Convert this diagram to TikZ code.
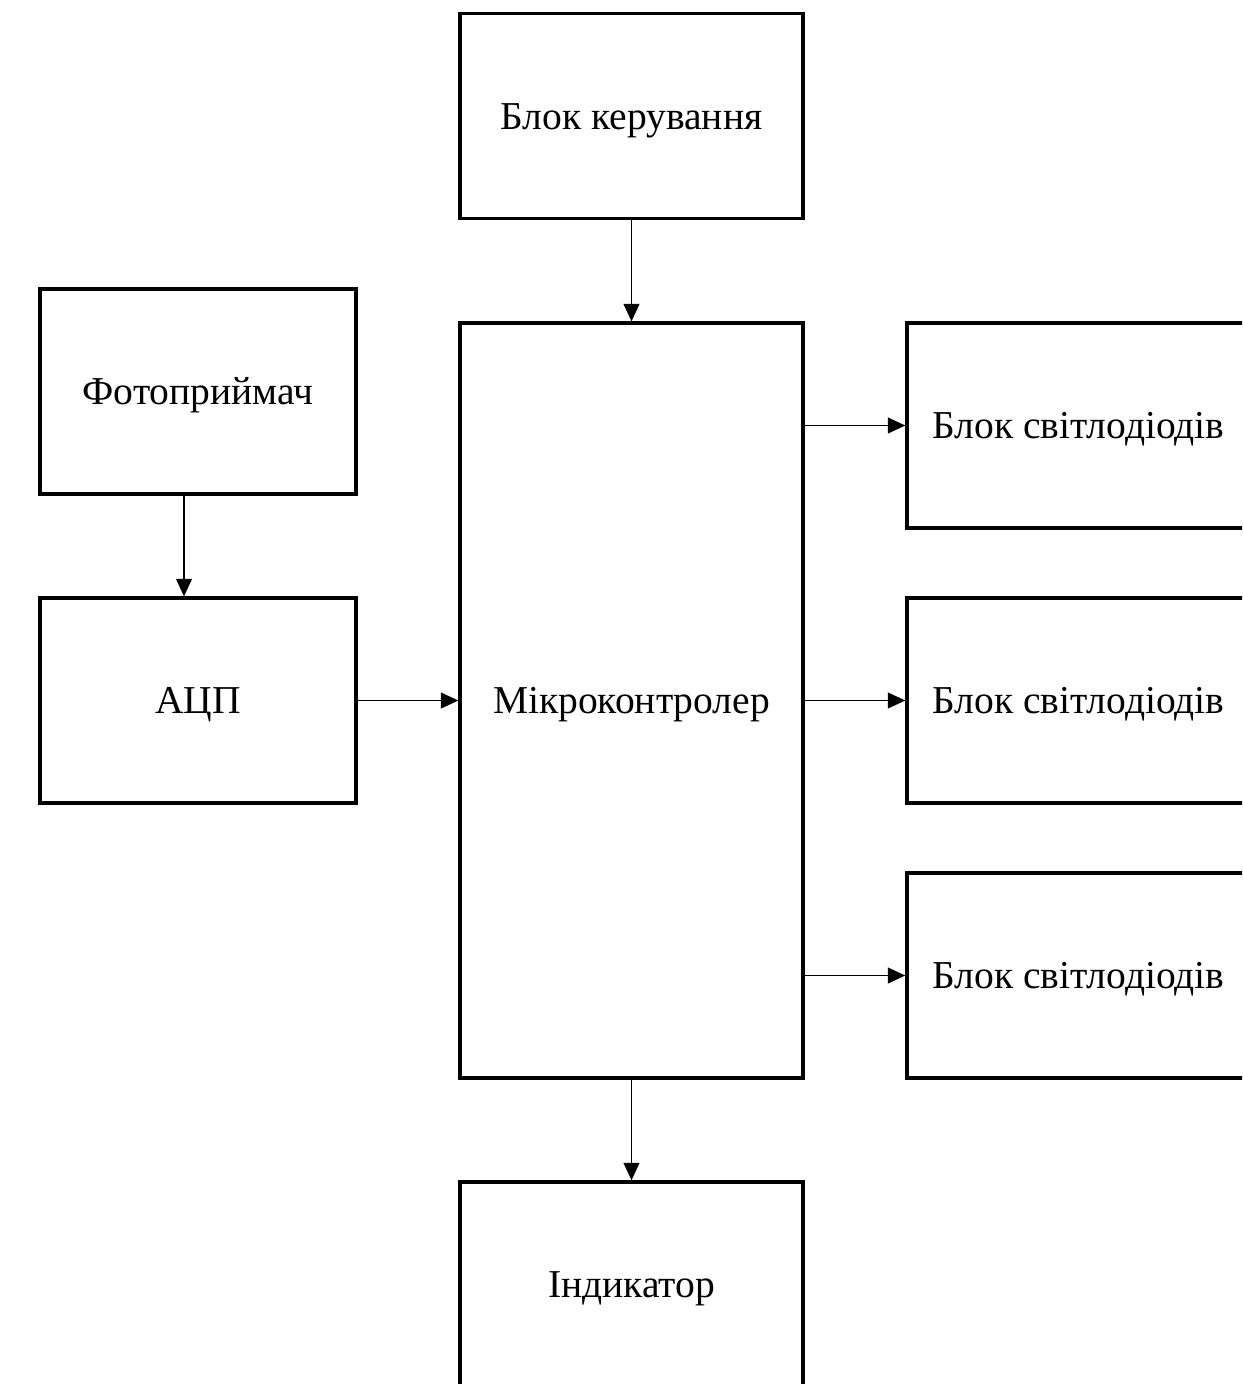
\documentclass[tikz,border=0pt]{standalone}
\usepackage{fontspec}
\setmainfont{Liberation Serif}
\usetikzlibrary{arrows.meta,positioning}

\tikzset{
  blok/.style={draw, line width=1.9pt, minimum width=6.86cm, minimum height=4.1cm,
    inner sep=0pt, text height=0.52cm, text depth=0pt,
    font=\fontsize{22.5}{27}\selectfont},
  vuzky/.style={blok, minimum width=6.32cm},
  zvjazok/.style={-{Triangle[length=10pt,width=9pt]}, line width=1pt}
}

\begin{document}
\begin{tikzpicture}[x=0.02cm, y=-0.02cm]
			\clip (0,0) rectangle (1242,1384);
			
			\node[blok] (keruv) at (631.5,116) {Блок керування};
			\node[blok, minimum height=15.1cm] (mk) at (631.5,700.5) {Мікроконтролер};
			\node[blok] (indyk) at (631.5,1284.5) {Індикатор};
			\node[vuzky] (foto) at (198,391.5) {Фотоприймач};
			\node[vuzky] (acp) at (198,700.5) {АЦП};
			
			\foreach \i/\y in {1/425.5, 2/700.5, 3/975.5} {
				\node[blok] (led\i) at (1078.5,\y) {Блок світлодіодів};
				\draw[zvjazok] (mk.east |- led\i.west) -- (led\i.west);
			}
			
			\draw[zvjazok] (keruv) -- (mk);
			\draw[zvjazok] (mk) -- (indyk);
			\draw[zvjazok] ([xshift=-0.28cm]foto.south) -- ([xshift=-0.28cm]acp.north);
			\draw[zvjazok] (acp) -- (mk);
		\end{tikzpicture}
\end{document}
